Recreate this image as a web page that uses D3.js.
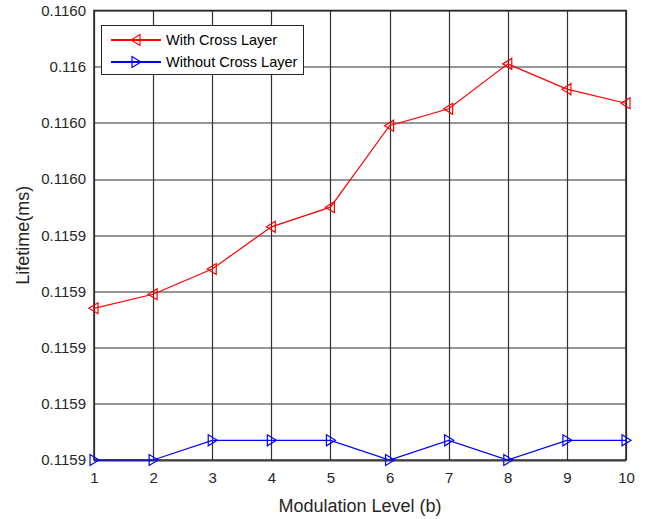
<!DOCTYPE html>
<html>
<head>
<meta charset="utf-8">
<script src="https://cdn.jsdelivr.net/npm/d3@7"></script>
<style>
  body { margin: 0; background: #fff; }
  svg { font-family: "Liberation Sans", Arial, sans-serif; }
</style>
</head>
<body>
<div id="chart"></div>
<script>
// modulation levels
const levels = [1, 2, 3, 4, 5, 6, 7, 8, 9, 10];
// lifetime (ms)
const withCross = [0.115914, 0.115919, 0.115928, 0.115943, 0.11595, 0.115979, 0.115985, 0.116001, 0.115992, 0.115987];
const withoutCross = [0.11586, 0.11586, 0.115867, 0.115867, 0.115867, 0.11586, 0.115867, 0.11586, 0.115867, 0.115867];
// y ticks and the labels as printed
const yTicks = [0.11586, 0.11588, 0.11590, 0.11592, 0.11594, 0.11596, 0.11598, 0.11600, 0.11602];
const yTickLabels = ['0.1159', '0.1159', '0.1159', '0.1159', '0.1159', '0.1160', '0.1160', '0.116', '0.1160'];

const width = 647;
const height = 519;
const margin = { top: 10.5, right: 21, bottom: 59, left: 94 };
const iw = width - margin.left - margin.right;
const ih = height - margin.top - margin.bottom;

const svg = d3.select('#chart').append('svg')
	.attr('width', width)
	.attr('height', height);

const g = svg.append('g').attr('transform', `translate(${margin.left},${margin.top})`);

const x = d3.scaleLinear().domain([1, 10]).range([0, iw]);
const y = d3.scaleLinear().domain([0.11586, 0.11602]).range([ih, 0]);

const axisColor = '#262626';

// grid lines
g.append('g')
	.selectAll('line')
	.data(levels)
	.enter().append('line')
	.attr('x1', (d) => Math.round(x(d)) + 0.5).attr('x2', (d) => Math.round(x(d)) + 0.5)
	.attr('y1', 0).attr('y2', ih)
	.attr('stroke', '#303030').attr('stroke-width', 1.2);

g.append('g')
	.selectAll('line')
	.data(yTicks)
	.enter().append('line')
	.attr('y1', (d) => Math.round(y(d)) + 0.5).attr('y2', (d) => Math.round(y(d)) + 0.5)
	.attr('x1', 0).attr('x2', iw)
	.attr('stroke', '#303030').attr('stroke-width', 1.2);

// axes
const xAxis = g.append('g')
	.attr('transform', `translate(0,${ih})`)
	.call(d3.axisBottom(x).tickValues(levels).tickFormat(d3.format('d')).tickSize(0).tickPadding(12));
const yAxis = g.append('g')
	.call(d3.axisLeft(y).tickValues(yTicks).tickFormat((d, i) => yTickLabels[i]).tickSize(0).tickPadding(8));

[xAxis, yAxis].forEach((a) => {
	a.select('.domain').remove();
	a.selectAll('text').attr('fill', axisColor).style('font-size', '15px');
});

// box
g.append('rect')
	.attr('width', iw).attr('height', ih)
	.attr('fill', 'none')
	.attr('stroke', axisColor)
	.attr('stroke-width', 1.5);

// axis labels
svg.append('text')
	.attr('x', margin.left + iw / 2)
	.attr('y', 512)
	.attr('text-anchor', 'middle')
	.attr('fill', axisColor)
	.style('font-size', '18px')
	.text('Modulation Level (b)');

svg.append('text')
	.attr('transform', `translate(29,${margin.top + ih / 2}) rotate(-90)`)
	.attr('text-anchor', 'middle')
	.attr('fill', axisColor)
	.style('font-size', '18px')
	.text('Lifetime(ms)');

// triangle marker path, pointing left or right
function tri(dir) {
	const a = -5 * dir, b = 4 * dir, h = 5.5;
	return `M${a},0L${b},${-h}L${b},${h}Z`;
}

const series = [
	{ name: 'With Cross Layer', values: withCross, color: '#ff0000', dir: 1 },
	{ name: 'Without Cross Layer', values: withoutCross, color: '#0000ff', dir: -1 }
];

const line = d3.line()
	.x((d, i) => x(levels[i]))
	.y((d) => y(d));

series.forEach((s) => {
	g.append('path')
		.datum(s.values)
		.attr('d', line)
		.attr('fill', 'none')
		.attr('stroke', s.color)
		.attr('stroke-width', 1.2);

	g.selectAll(null)
		.data(s.values)
		.enter().append('path')
		.attr('transform', (d, i) => `translate(${x(levels[i])},${y(d)})`)
		.attr('d', tri(s.dir))
		.attr('fill', 'none')
		.attr('stroke', s.color)
		.attr('stroke-width', 1.2);
});

// legend
const legend = svg.append('g').attr('transform', 'translate(101,25)');
legend.append('rect')
	.attr('x', 0.5).attr('y', 0.5)
	.attr('width', 202).attr('height', 49)
	.attr('fill', '#fff')
	.attr('stroke', axisColor)
	.attr('stroke-width', 1);

series.forEach((s, i) => {
	const ly = 15 + i * 22;
	legend.append('line')
		.attr('x1', 10).attr('x2', 60)
		.attr('y1', ly).attr('y2', ly)
		.attr('stroke', s.color)
		.attr('stroke-width', 1.8);
	legend.append('path')
		.attr('transform', `translate(35,${ly})`)
		.attr('d', tri(s.dir))
		.attr('fill', 'none')
		.attr('stroke', s.color)
		.attr('stroke-width', 1.2);
	legend.append('text')
		.attr('x', 65).attr('y', ly + 5)
		.attr('fill', '#000')
		.style('font-size', '14.5px')
		.text(s.name);
});
</script>
</body>
</html>
